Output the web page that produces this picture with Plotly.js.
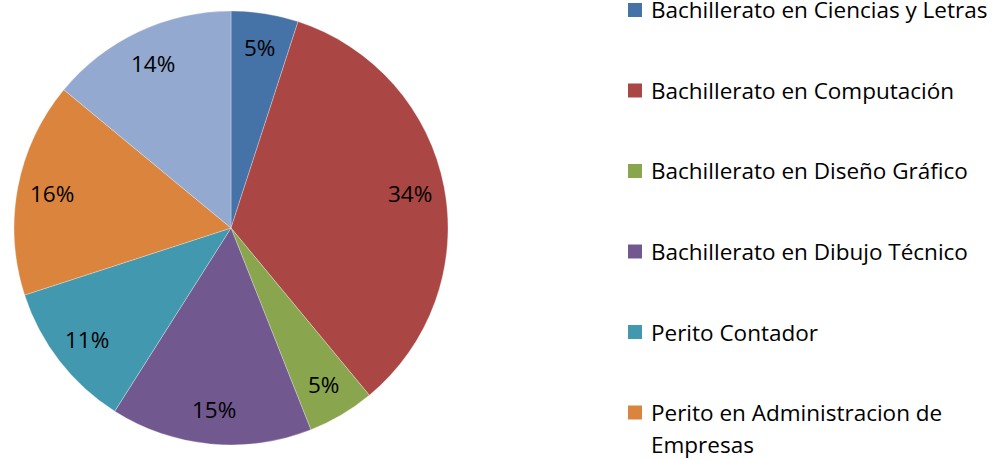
<!DOCTYPE html>
<html>
<head>
<meta charset="utf-8">
<script src="https://cdn.plot.ly/plotly-3.0.1.min.js"></script>
<style>html,body{margin:0;padding:0;background:#fff;overflow:hidden}#chart{width:1003px;height:460px}</style>
</head>
<body>
<div id="chart"></div>
<script>
const categories = [
  "Bachillerato en Ciencias y Letras",
  "Bachillerato en Computación",
  "Bachillerato en Diseño Gráfico",
  "Bachillerato en Dibujo Técnico",
  "Perito Contador",
  "Perito en Administracion de Empresas",
  "Perito en Mercadotecnia"
];
const values = [5, 34, 5, 15, 11, 16, 14];
const colors = ["#4572A7", "#AA4643", "#89A54E", "#71588F", "#4198AF", "#DB843D", "#93A9CF"];
const legendLines = [
  ["Bachillerato en Ciencias y Letras"],
  ["Bachillerato en Computación"],
  ["Bachillerato en Diseño Gráfico"],
  ["Bachillerato en Dibujo Técnico"],
  ["Perito Contador"],
  ["Perito en Administracion de", "Empresas"],
  ["Perito en Mercadotecnia"]
];

const W = 1003, H = 460;
const FONT = "'Open Sans', Lato, sans-serif";
const FS = 22.5;
const cx = 231, cy = 228, r = 217;
const labelRadius = 0.84;

const trace = {
  type: "pie",
  labels: categories,
  values: values,
  sort: false,
  direction: "clockwise",
  rotation: 0,
  marker: {colors: colors, line: {color: "#ffffff", width: 0.3}},
  textinfo: "none",
  hoverinfo: "label+percent",
  showlegend: false,
  domain: {
    x: [(cx - r) / W, (cx + r) / W],
    y: [(H - cy - r) / H, (H - cy + r) / H]
  }
};

const shapes = [], annotations = [];

// percentage labels placed along each slice's mid-angle (Excel "best fit" style)
const total = values.reduce((a, b) => a + b, 0);
let cum = 0;
values.forEach((v, i) => {
  const mid = (cum + v / 2) / total * 2 * Math.PI;
  cum += v;
  const px = cx + labelRadius * r * Math.sin(mid);
  const py = cy - labelRadius * r * Math.cos(mid);
  annotations.push({
    xref: "paper", yref: "paper",
    x: px / W, y: (H - py) / H,
    xanchor: "center", yanchor: "middle",
    showarrow: false,
    text: Math.round(v / total * 100) + "%",
    font: {family: FONT, size: FS, color: "#000000"}
  });
});

// custom legend
const legX = 628, legSq = 14, legTop = 10, legStep = 80.5, lineStep = 32;
legendLines.forEach((lines, i) => {
  const yc = legTop + i * legStep;
  shapes.push({
    type: "rect", xref: "paper", yref: "paper",
    x0: legX / W, x1: (legX + legSq) / W,
    y0: (H - yc - legSq / 2) / H, y1: (H - yc + legSq / 2) / H,
    fillcolor: colors[i], line: {width: 0}
  });
  lines.forEach((txt, k) => {
    annotations.push({
      xref: "paper", yref: "paper",
      x: (legX + 21) / W, y: (H - yc - k * lineStep) / H,
      xanchor: "left", yanchor: "middle", align: "left",
      showarrow: false, text: txt,
      font: {family: FONT, size: FS, color: "#000000"}
    });
  });
});

const layout = {
  width: W, height: H,
  margin: {l: 0, r: 0, t: 0, b: 0},
  paper_bgcolor: "#ffffff",
  plot_bgcolor: "#ffffff",
  showlegend: false,
  shapes: shapes,
  annotations: annotations
};

Plotly.newPlot("chart", [trace], layout, {displayModeBar: false, staticPlot: true});
</script>
</body>
</html>
